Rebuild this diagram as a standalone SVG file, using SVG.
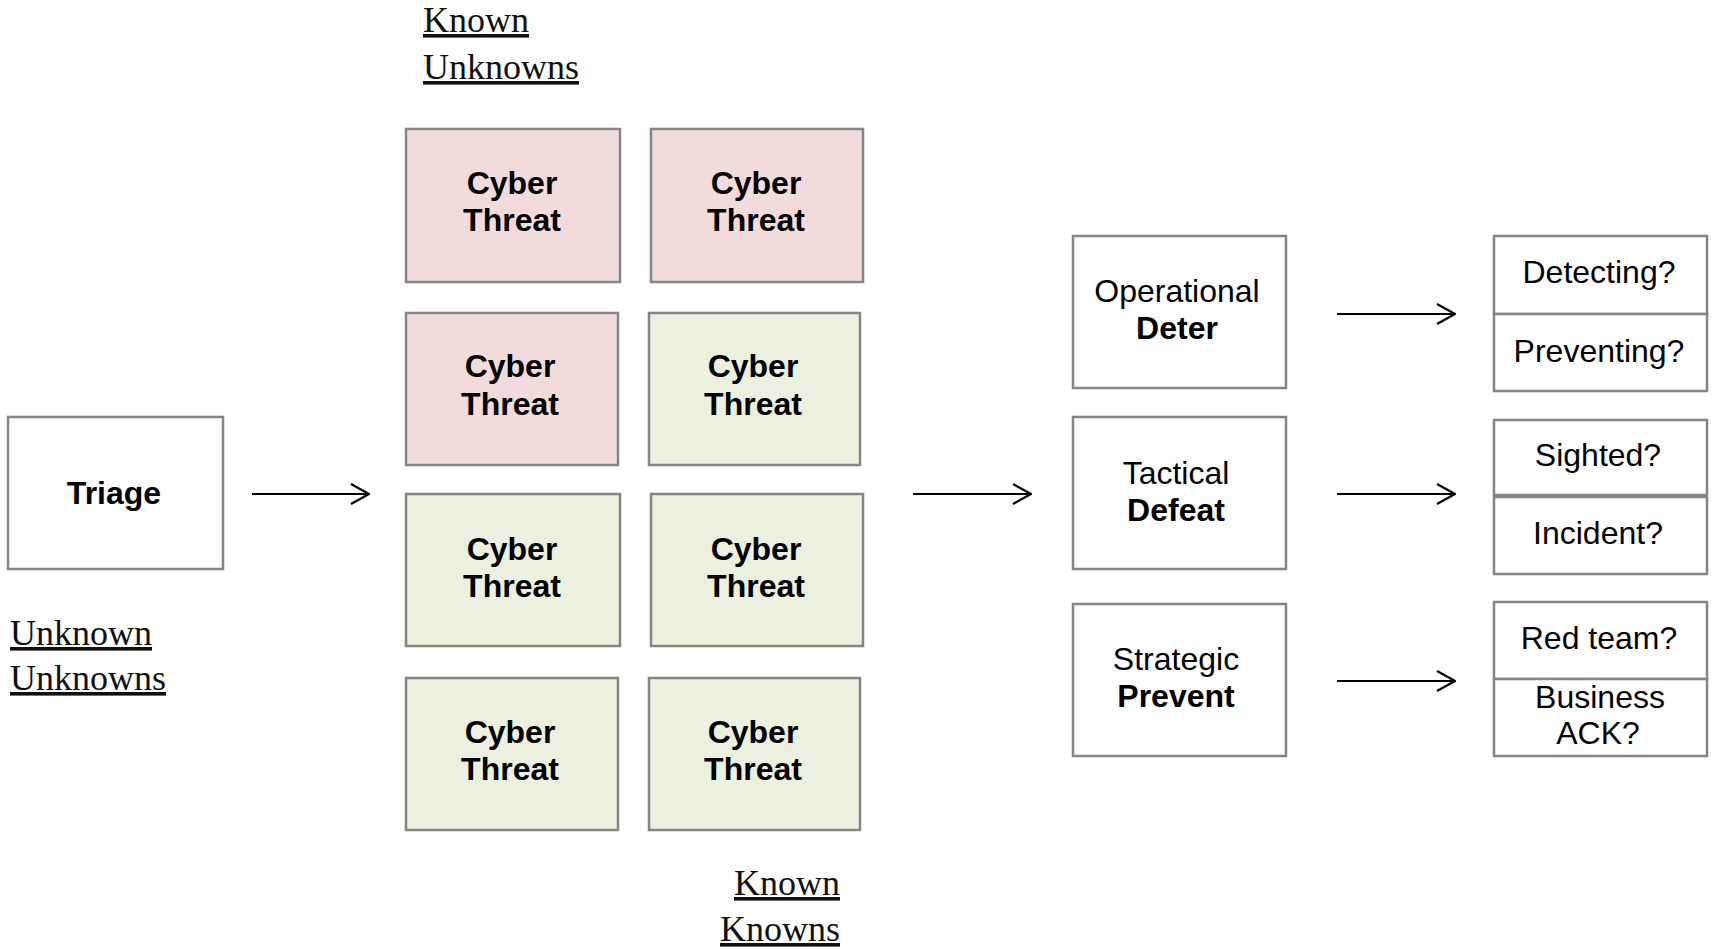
<svg xmlns="http://www.w3.org/2000/svg" width="1715" height="950" viewBox="0 0 1715 950">
<defs>
<style>
.box{stroke:#858585;stroke-width:2.5;fill:#fff}
.pink{fill:#F2DCDB}
.green{fill:#EBF1DE}
.b{font-family:"Liberation Sans",Arial,sans-serif;font-weight:bold;font-size:32px;fill:#000;text-anchor:middle}
.r{font-family:"Liberation Sans",Arial,sans-serif;font-size:32px;fill:#000;text-anchor:middle}
.ser{font-family:"Liberation Serif","Times New Roman",serif;font-size:36px;fill:#111;text-decoration:underline}
.conn{stroke:#000;stroke-width:2.2;fill:none}
</style>
<marker id="ah" viewBox="0 0 20 22" refX="19" refY="11" markerWidth="20" markerHeight="22" markerUnits="userSpaceOnUse" orient="auto">
<path d="M1,1 L19,11 L1,21" fill="none" stroke="#000" stroke-width="2.2"/>
</marker>
</defs>
<rect width="1715" height="950" fill="#fff"/>

<g id="label-known-unknowns">
<text class="ser" x="423" y="32">Known</text>
<text class="ser" x="423" y="79">Unknowns</text>
</g>
<g id="label-unknown-unknowns">
<text class="ser" x="10" y="645">Unknown</text>
<text class="ser" x="10" y="690">Unknowns</text>
</g>
<g id="label-known-knowns">
<text class="ser" x="840" y="895" text-anchor="end">Known</text>
<text class="ser" x="840" y="941" text-anchor="end">Knowns</text>
</g>

<g id="triage">
<rect class="box" x="8" y="417" width="215" height="152"/>
<text class="b" x="114" y="504">Triage</text>
</g>

<g id="threat1">
<rect class="box pink" x="406" y="129" width="214" height="153"/>
<text class="b" x="512" y="194">Cyber</text>
<text class="b" x="512" y="231">Threat</text>
</g>
<g id="threat2">
<rect class="box pink" x="651" y="129" width="212" height="153"/>
<text class="b" x="756" y="194">Cyber</text>
<text class="b" x="756" y="231">Threat</text>
</g>
<g id="threat3">
<rect class="box pink" x="406" y="313" width="212" height="152"/>
<text class="b" x="510" y="377">Cyber</text>
<text class="b" x="510" y="415">Threat</text>
</g>
<g id="threat4">
<rect class="box green" x="649" y="313" width="211" height="152"/>
<text class="b" x="753" y="377">Cyber</text>
<text class="b" x="753" y="415">Threat</text>
</g>
<g id="threat5">
<rect class="box green" x="406" y="494" width="214" height="152"/>
<text class="b" x="512" y="560">Cyber</text>
<text class="b" x="512" y="597">Threat</text>
</g>
<g id="threat6">
<rect class="box green" x="651" y="494" width="212" height="152"/>
<text class="b" x="756" y="560">Cyber</text>
<text class="b" x="756" y="597">Threat</text>
</g>
<g id="threat7">
<rect class="box green" x="406" y="678" width="212" height="152"/>
<text class="b" x="510" y="743">Cyber</text>
<text class="b" x="510" y="780">Threat</text>
</g>
<g id="threat8">
<rect class="box green" x="649" y="678" width="211" height="152"/>
<text class="b" x="753" y="743">Cyber</text>
<text class="b" x="753" y="780">Threat</text>
</g>

<g id="operational">
<rect class="box" x="1073" y="236" width="213" height="152"/>
<text class="r" x="1177" y="302">Operational</text>
<text class="b" x="1177" y="339">Deter</text>
</g>
<g id="tactical">
<rect class="box" x="1073" y="417" width="213" height="152"/>
<text class="r" x="1176" y="484">Tactical</text>
<text class="b" x="1176" y="521">Defeat</text>
</g>
<g id="strategic">
<rect class="box" x="1073" y="604" width="213" height="152"/>
<text class="r" x="1176" y="670">Strategic</text>
<text class="b" x="1176" y="707">Prevent</text>
</g>

<g id="q-detecting">
<rect class="box" x="1494" y="236" width="213" height="78"/>
<text class="r" x="1599" y="283">Detecting?</text>
</g>
<g id="q-preventing">
<rect class="box" x="1494" y="314" width="213" height="77"/>
<text class="r" x="1599" y="362">Preventing?</text>
</g>
<g id="q-sighted">
<rect class="box" x="1494" y="420" width="213" height="75"/>
<text class="r" x="1598" y="466">Sighted?</text>
</g>
<g id="q-incident">
<rect class="box" x="1494" y="497" width="213" height="77"/>
<text class="r" x="1598" y="544">Incident?</text>
</g>
<g id="q-redteam">
<rect class="box" x="1494" y="602" width="213" height="77"/>
<text class="r" x="1599" y="649">Red team?</text>
</g>
<g id="q-business">
<rect class="box" x="1494" y="679" width="213" height="77"/>
<text class="r" x="1600" y="708">Business</text>
<text class="r" x="1598" y="744">ACK?</text>
</g>

<g id="connectors">
<path class="conn" d="M252,494 H369" marker-end="url(#ah)"/>
<path class="conn" d="M913,494 H1031" marker-end="url(#ah)"/>
<path class="conn" d="M1337,314 H1455" marker-end="url(#ah)"/>
<path class="conn" d="M1337,494 H1455" marker-end="url(#ah)"/>
<path class="conn" d="M1337,681 H1455" marker-end="url(#ah)"/>
</g>
</svg>
